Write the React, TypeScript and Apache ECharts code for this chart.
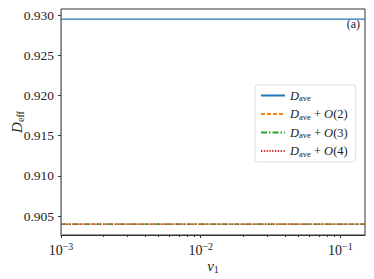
import React, { useEffect, useRef } from "react";
import * as echarts from "echarts";

const xValues = [0.001, 0.002, 0.005, 0.01, 0.02, 0.05, 0.1, 0.15];
const dAve = [0.9295, 0.9295, 0.9295, 0.9295, 0.9295, 0.9295, 0.9295, 0.9295];
const dO2 = [0.904, 0.904, 0.904, 0.904, 0.904, 0.904, 0.904, 0.904];
const dO3 = [0.904, 0.904, 0.904, 0.904, 0.904, 0.904, 0.904, 0.904];
const dO4 = [0.904, 0.904, 0.904, 0.904, 0.904, 0.904, 0.904, 0.904];
const yTicks = [0.905, 0.91, 0.915, 0.92, 0.925, 0.93];
const xMajor = [0.001, 0.01, 0.1];
const xMinor = [0.002, 0.003, 0.004, 0.005, 0.006, 0.007, 0.008, 0.009, 0.02, 0.03, 0.04, 0.05, 0.06, 0.07, 0.08, 0.09];
const seriesNames = ["D_ave", "D_ave + O(2)", "D_ave + O(3)", "D_ave + O(4)"];

const FONT = "Liberation Serif";

export default function App() {
  const ref = useRef<HTMLDivElement>(null);
  useEffect(() => {
    const chart = echarts.init(ref.current!, null, { renderer: "svg" });
    const legendRich = {
      d: { fontFamily: FONT, fontStyle: "italic", fontSize: 12.5, color: "#222" },
      s: { fontFamily: FONT, fontSize: 8.5, color: "#222", padding: [5, 0, 0, 0] },
      t: { fontFamily: FONT, fontSize: 12.5, color: "#222" },
      o: { fontFamily: FONT, fontStyle: "italic", fontSize: 12.5, color: "#222" },
    };
    const legendFmt = (name: string) => {
      if (name === "D_ave") return "{d|D}{s|ave}";
      const n = name.match(/\((\d)\)/)![1];
      return "{d|D}{s|ave}{t| + }{o|O}{t|(" + n + ")}";
    };
    const mk = (name: string, data: number[], color: string, type: any, width = 1.3) => ({
      name,
      type: "line",
      symbol: "none",
      data: xValues.map((x, i) => [x, data[i]]),
      lineStyle: { color, type, width },
      itemStyle: { color },
      xAxisIndex: 0,
    });
    chart.setOption({
      animation: false,
      grid: {
        left: 61, right: 9, top: 9, bottom: 44,
        show: true, borderColor: "#333", borderWidth: 1,
        containLabel: false, outerBoundsMode: "none",
      },
      xAxis: [
        {
          type: "log",
          min: 0.001,
          max: 0.15,
          logBase: 10,
          name: "{v|v}{s|1}",
          nameLocation: "middle",
          nameGap: 22,
          nameMoveOverlap: false,
          nameTextStyle: {
            rich: {
              v: { fontFamily: FONT, fontStyle: "italic", fontSize: 15, color: "#222" },
              s: { fontFamily: FONT, fontSize: 10, color: "#222", padding: [7, 0, 0, 0] },
            },
          },
          axisLine: { show: true, lineStyle: { color: "#333", width: 1 } },
          axisTick: { show: true, inside: false, length: 3, customValues: xMajor, lineStyle: { color: "#333" } },
          minorTick: { show: false },
          splitLine: { show: false },
          axisLabel: {
            customValues: xMajor,
            margin: 6,
            formatter: (v: number) => "{b|10}{sup|" + "\u2212" + Math.round(-Math.log10(v)) + "}",
            rich: {
              b: { fontFamily: FONT, fontSize: 14, color: "#222" },
              sup: { fontFamily: FONT, fontSize: 10, color: "#222", padding: [0, 0, 9, 0] },
            },
          },
        },
        {
          type: "log",
          min: 0.001,
          max: 0.15,
          position: "bottom",
          axisLine: { show: false },
          axisTick: { show: true, length: 2, customValues: xMinor, lineStyle: { color: "#333" } },
          axisLabel: { show: false },
          splitLine: { show: false },
        },
      ],
      yAxis: {
        type: "value",
        min: 0.90264,
        max: 0.93075,
        name: "{d|D}{s|eff}",
        nameLocation: "middle",
        nameGap: 36,
        nameRotate: 90,
        nameMoveOverlap: false,
        nameTextStyle: {
          rich: {
            d: { fontFamily: FONT, fontStyle: "italic", fontSize: 15, color: "#222" },
            s: { fontFamily: FONT, fontSize: 10, color: "#222", padding: [7, 0, 0, 0] },
          },
        },
        axisLine: { show: true, lineStyle: { color: "#888", width: 1 } },
        axisTick: { show: true, length: 3, customValues: yTicks, lineStyle: { color: "#333" } },
        splitLine: { show: false },
        axisLabel: {
          customValues: yTicks,
          margin: 7,
          fontFamily: FONT,
          fontSize: 13.5,
          color: "#222",
          formatter: (v: number) => v.toFixed(3),
        },
      },
      legend: {
        orient: "vertical",
        left: 255,
        top: 85,
        padding: [4, 8, 4, 5],
        itemWidth: 24,
        itemHeight: 10,
        itemGap: 5,
        backgroundColor: "rgba(255,255,255,0.9)",
        borderColor: "#ddd",
        borderWidth: 1,
        borderRadius: 3,
        data: seriesNames,
        formatter: legendFmt,
        itemStyle: { opacity: 0 },
        textStyle: { rich: legendRich, fontFamily: FONT, fontSize: 12.5 },
      },
      graphic: [
        {
          type: "text",
          right: 14,
          top: 18,
          style: { text: "(a)", fontFamily: FONT, fontSize: 12, fill: "#222" },
        },
      ],
      series: [
        mk(seriesNames[0], dAve, "#1f77b4", "solid"),
        mk(seriesNames[1], dO2, "#ff7f0e", [4, 2]),
        mk(seriesNames[2], dO3, "#2ca02c", [6, 2, 1.5, 2]),
        mk(seriesNames[3], dO4, "#d62728", [1.3, 1.5]),
      ],
    });
    return () => chart.dispose();
  }, []);
  return <div ref={ref} style={{ position: "absolute", left: 0, top: 0, width: 374, height: 279 }} />;
}
